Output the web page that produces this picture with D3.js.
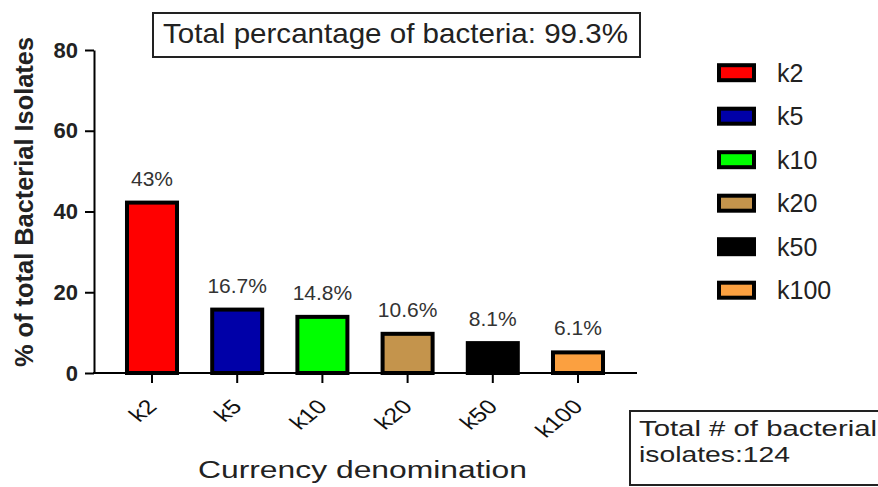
<!DOCTYPE html>
<html>
<head>
<meta charset="utf-8">
<script src="https://cdn.jsdelivr.net/npm/d3@7"></script>
<style>
  html, body { margin: 0; padding: 0; background: #fff; }
  svg { display: block; font-family: "Liberation Sans", Arial, sans-serif; }
</style>
</head>
<body>
<svg id="chart" width="878" height="487"></svg>
<script>
// ---- data ----
const categories = ["k2", "k5", "k10", "k20", "k50", "k100"];
const values = [42.7, 16.2, 14.4, 10.2, 7.9, 5.6];
const valueLabels = ["43%", "16.7%", "14.8%", "10.6%", "8.1%", "6.1%"];
const colors = ["#ff0000", "#0000a8", "#00ff00", "#c4944c", "#000000", "#fba040"];
const yTicks = [0, 20, 40, 60, 80];
const titleText = "Total percantage of bacteria: 99.3%";
const noteLines = ["Total # of bacterial", "isolates:124"];
const yTitle = "% of total Bacterial Isolates";
const xTitle = "Currency denomination";

const svg = d3.select("#chart");

const y = d3.scaleLinear().domain([0, 80]).range([373, 50]);
const x = d3.scaleBand().domain(categories).range([109.4, 620.6])
  .paddingInner(0.366).paddingOuter(0.183);
const color = d3.scaleOrdinal().domain(categories).range(colors);

// y axis
const yAxis = svg.append("g").attr("transform", "translate(94,0)")
  .call(d3.axisLeft(y).tickValues(yTicks).tickSize(9).tickSizeOuter(0).tickPadding(7));
yAxis.select(".domain").attr("stroke", "#000").attr("stroke-width", 2);
yAxis.selectAll(".tick line").attr("stroke", "#000").attr("stroke-width", 2);
yAxis.selectAll(".tick text")
  .attr("font-family", "'Liberation Sans', Arial, sans-serif")
  .attr("font-size", 22).attr("font-weight", "bold").attr("fill", "#222");

// x axis
const xAxis = svg.append("g").attr("transform", "translate(0,373)")
  .call(d3.axisBottom(x).tickSize(10).tickSizeOuter(0));
xAxis.select(".domain").remove();
xAxis.selectAll(".tick line").attr("stroke", "#000").attr("stroke-width", 2);
xAxis.selectAll(".tick text").remove();
svg.append("line").attr("x1", 93).attr("x2", 637).attr("y1", 373).attr("y2", 373)
  .attr("stroke", "#000").attr("stroke-width", 2);

xAxis.selectAll(".tick").append("text")
  .attr("transform", "translate(6,35) scale(1.25,1) rotate(-45)")
  .attr("text-anchor", "end")
  .attr("font-family", "'Liberation Sans', Arial, sans-serif")
  .attr("font-size", 20).attr("fill", "#111")
  .text(d => d);

// bars
svg.append("g").selectAll("rect").data(categories).join("rect")
  .attr("x", d => x(d) + 2)
  .attr("width", x.bandwidth() - 4)
  .attr("y", (d, i) => y(values[i]) + 2)
  .attr("height", (d, i) => y(0) - y(values[i]) - 2)
  .attr("fill", d => color(d))
  .attr("stroke", "#000").attr("stroke-width", 4);

// value labels
svg.append("g").selectAll("text").data(categories).join("text")
  .attr("x", d => x(d) + x.bandwidth() / 2)
  .attr("y", (d, i) => y(values[i]) - 15)
  .attr("text-anchor", "middle")
  .attr("font-size", 21).attr("fill", "#333")
  .text((d, i) => valueLabels[i]);

// y title
svg.append("text")
  .attr("transform", "translate(33,202) rotate(-90)")
  .attr("text-anchor", "middle")
  .attr("font-size", 25).attr("font-weight", "bold").attr("fill", "#222")
  .attr("textLength", 330).attr("lengthAdjust", "spacingAndGlyphs")
  .text(yTitle);

// x title
svg.append("text")
  .attr("x", 198).attr("y", 478)
  .attr("font-size", 23).attr("fill", "#222")
  .attr("textLength", 329).attr("lengthAdjust", "spacingAndGlyphs")
  .text(xTitle);

// title box
svg.append("rect").attr("x", 153).attr("y", 13).attr("width", 487).attr("height", 44)
  .attr("fill", "#fff").attr("stroke", "#222").attr("stroke-width", 2);
svg.append("text").attr("x", 163).attr("y", 43)
  .attr("font-size", 28).attr("fill", "#222")
  .attr("textLength", 465).attr("lengthAdjust", "spacingAndGlyphs")
  .text(titleText);

// note box
svg.append("rect").attr("x", 630).attr("y", 411).attr("width", 270).attr("height", 74)
  .attr("fill", "#fff").attr("stroke", "#222").attr("stroke-width", 2);
const noteLens = [238, 151];
svg.append("g").selectAll("text").data(noteLines).join("text")
  .attr("x", 639).attr("y", (d, i) => 436 + i * 26)
  .attr("font-size", 22).attr("fill", "#222")
  .attr("textLength", (d, i) => noteLens[i]).attr("lengthAdjust", "spacingAndGlyphs")
  .text(d => d);

// legend
const leg = svg.append("g").selectAll("g").data(categories).join("g")
  .attr("transform", (d, i) => `translate(717,${72.7 + i * 43.5})`);
leg.append("rect").attr("x", 2).attr("y", -7.5).attr("width", 35).attr("height", 15)
  .attr("fill", d => color(d)).attr("stroke", "#000").attr("stroke-width", 4);
leg.append("text").attr("x", 60).attr("y", 9)
  .attr("font-size", 25).attr("fill", "#222")
  .attr("transform", "scale(1,1)")
  .text(d => d);
</script>
</body>
</html>
